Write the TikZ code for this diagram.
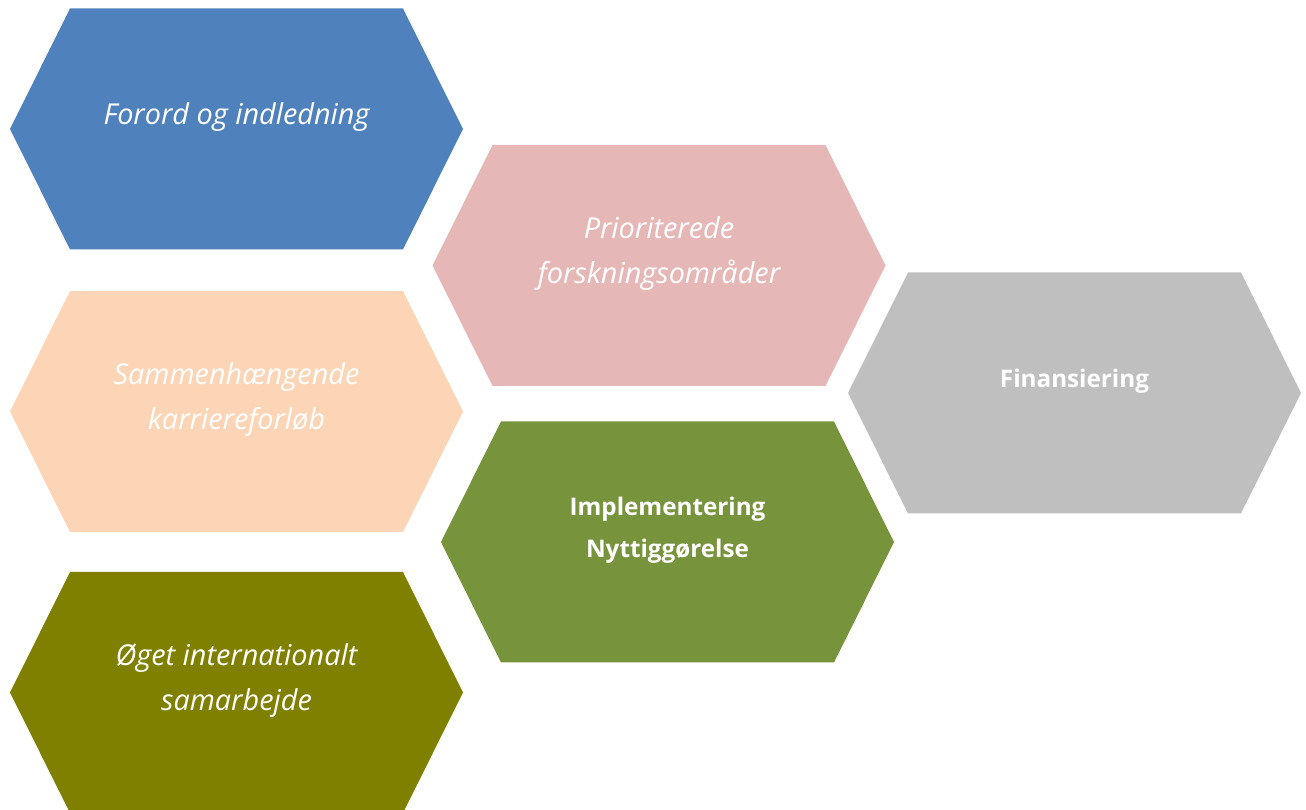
\documentclass[tikz,border=0pt]{standalone}
\usepackage{fontspec}
\setmainfont{Open Sans}
\usepackage{xcolor}
\usepackage{tikz}

\definecolor{hexblue}{HTML}{4F81BD}
\definecolor{hexpink}{HTML}{E5B8B7}
\definecolor{hexpeach}{HTML}{FBD5B5}
\definecolor{hexgrey}{HTML}{BFBFBF}
\definecolor{hexgreen}{HTML}{77933C}
\definecolor{hexolive}{HTML}{7F7F00}

\tikzset{
  hexit/.style={text=white, align=center, font=\itshape\fontsize{16.4}{25.5}\selectfont},
  hexbf/.style={text=white, align=center, font=\bfseries\fontsize{13.8}{23.6}\selectfont},
  hexcell/.style={insert path={++(-226.5,0) -- ++(60,-120.5) -- ++(333,0) -- ++(60,120.5)
                  -- ++(-60,120.5) -- ++(-333,0) -- cycle}}
}

\begin{document}
\begin{tikzpicture}[x=0.02cm, y=-0.02cm]
    \clip (0,0) rectangle (1306,810);
    \fill[hexblue]  (236.5,129) [hexcell];   % left column
    \fill[hexpeach] (236.5,411.5) [hexcell];
    \fill[hexolive] (236.5,692.5) [hexcell];
    \fill[hexpink]  (659,265.5) [hexcell];   % middle column
    \fill[hexgreen] (667.5,542) [hexcell];
    \fill[hexgrey]  (1074.5,393) [hexcell];  % right
    \node[hexit] (forord) at (236.5,117) {Forord og indledning};
    \node[hexit] (karriere) at (236.5,399.5) {Sammenhængende\\karriereforløb};
    \node[hexit] (intl) at (236.5,680.5) {Øget internationalt\\samarbejde};
    \node[hexit] (prio) at (659,253.5) {Prioriterede\\forskningsområder};
    \node[hexbf] (impl) at (667.5,530) {Implementering\\Nyttiggørelse};
    \node[hexbf] (finans) at (1074.5,381) {Finansiering};
\end{tikzpicture}
\end{document}
